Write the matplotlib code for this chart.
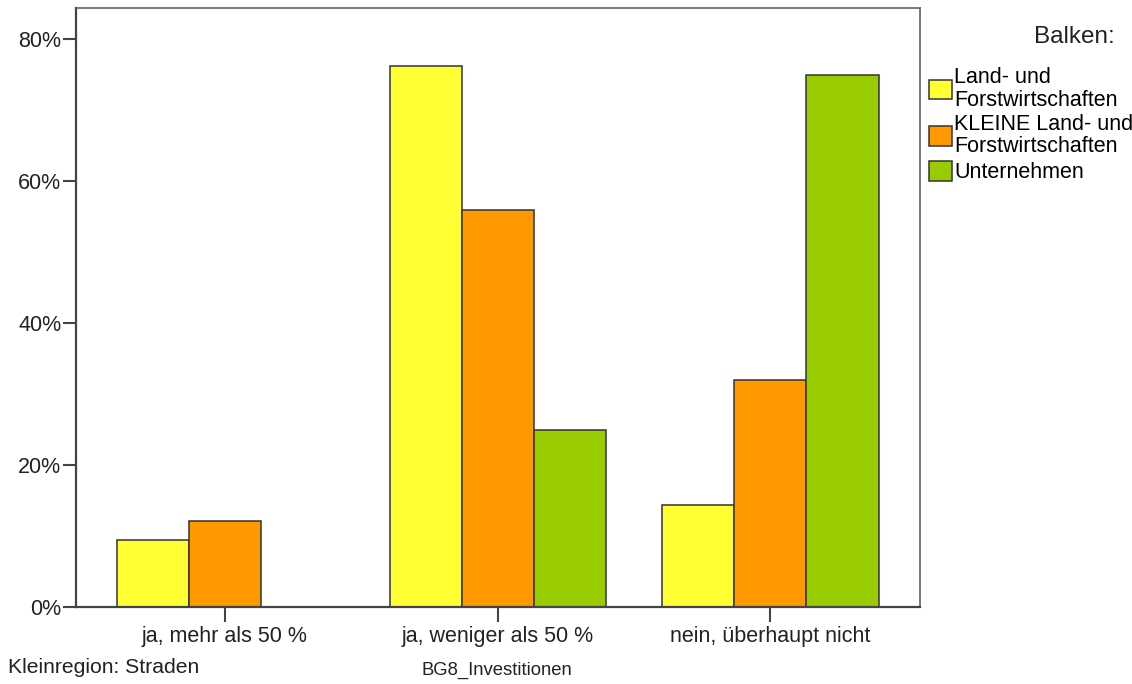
import numpy as np
import matplotlib.pyplot as plt
from matplotlib.patches import Patch
from matplotlib.ticker import PercentFormatter

plt.rcParams['font.family'] = ['Liberation Sans', 'DejaVu Sans']

categories = ["ja, mehr als 50 %", "ja, weniger als 50 %", "nein, überhaupt nicht"]
series_names = ["Land- und\nForstwirtschaften", "KLEINE Land- und\nForstwirtschaften", "Unternehmen"]
land_forst = [9.5, 76.2, 14.3]
kleine_land_forst = [12.1, 56.0, 32.0]
unternehmen = [0.0, 25.0, 75.0]
colors = ["#FFFF33", "#FF9900", "#99CC00"]
y_ticks = [0, 20, 40, 60, 80]


def main():
    fig = plt.figure(figsize=(11.32, 6.84), dpi=100)
    ax = fig.add_axes([0.0671, 0.1126, 0.7456, 0.8757])

    x = np.arange(len(categories))
    width = 0.264
    edge = "#333333"
    for i, vals in enumerate([land_forst, kleine_land_forst, unternehmen]):
        ax.bar(x + (i - 1) * width, vals, width, color=colors[i],
               edgecolor=edge, linewidth=1.1, zorder=2)

    ax.set_xlim(-0.546, 2.548)
    ax.set_ylim(0, 84.4)
    ax.set_yticks(y_ticks)
    ax.yaxis.set_major_formatter(PercentFormatter(decimals=0))
    ax.set_xticks(x)
    ax.set_xticklabels(categories)
    ax.tick_params(axis='y', length=9.5, width=1.5, color="#444444",
                   labelsize=15.5, labelcolor="#222222", pad=1)
    ax.tick_params(axis='x', length=10.5, width=1.5, color="#444444",
                   labelsize=15.5, labelcolor="#222222", pad=3)
    for side in ["left", "bottom"]:
        ax.spines[side].set_color("#444444")
        ax.spines[side].set_linewidth(1.6)
    for side in ["top", "right"]:
        ax.spines[side].set_color("#555555")
        ax.spines[side].set_linewidth(1.1)

    fig.text(0.985, 0.946, "Balken:", ha="right", va="center",
             fontsize=17.5, color="#222222")
    handles = [Patch(facecolor=c, edgecolor=edge, linewidth=1.1) for c in colors]
    leg = fig.legend(handles, series_names, loc="upper left",
                     bbox_to_anchor=(0.8207, 0.902), frameon=False, fontsize=15.5,
                     handlelength=1.05, handleheight=1.05, handletextpad=0.12,
                     labelspacing=0.15, borderaxespad=0, borderpad=0)
    for t in leg.get_texts():
        t.set_linespacing(1.1)

    fig.text(0.007, 0.0234, "Kleinregion: Straden", ha="left", va="center",
             fontsize=15.2, color="#222222")
    fig.text(0.439, 0.0205, "BG8_Investitionen", ha="center", va="center",
             fontsize=13.3, color="#222222")

    fig.savefig("out.png", dpi=100)


if __name__ == '__main__':
    main()
